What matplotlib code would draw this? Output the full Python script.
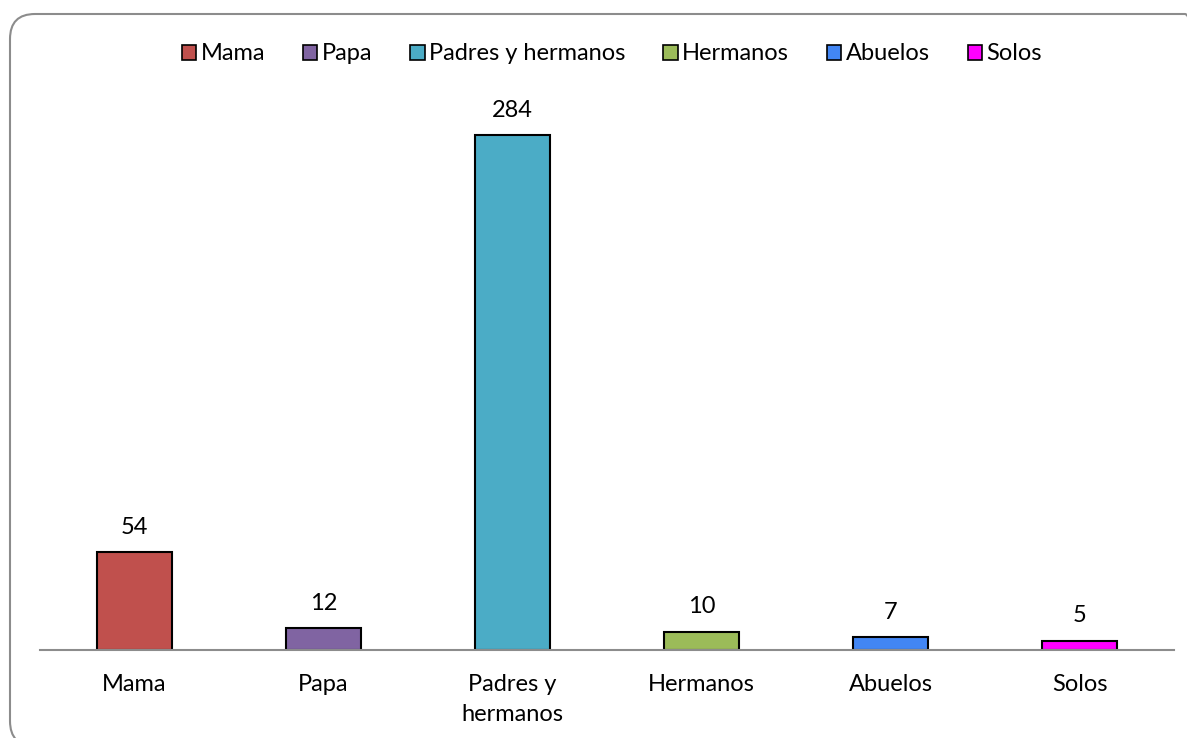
import matplotlib.pyplot as plt
from matplotlib.patches import FancyBboxPatch, Patch
from matplotlib.transforms import IdentityTransform

categories = ['Mama', 'Papa', 'Padres y hermanos', 'Hermanos', 'Abuelos', 'Solos']
tick_labels = ['Mama', 'Papa', 'Padres y\nhermanos', 'Hermanos', 'Abuelos', 'Solos']
values = [54, 12, 284, 10, 7, 5]
colors = ['#C0504D', '#8064A2', '#4BACC6', '#9BBB59', '#4286F4', '#FF00FF']

plt.rcParams['font.family'] = ['Lato', 'DejaVu Sans']

W, H = 1187, 738
fig = plt.figure(figsize=(W / 100, H / 100), dpi=100)

# axes placed in pixels: x 40..1174, baseline at y=650
left, right, base, top = 40, 1174, 650, 100
ax = fig.add_axes([left / W, 1 - base / H, (right - left) / W, (base - top) / H])

x = range(len(values))
ax.bar(x, values, width=0.4, color=colors, edgecolor='black', linewidth=1.5, zorder=3)
for i, v in enumerate(values):
    ax.text(i, v + 8, str(v), ha='center', va='bottom', fontsize=17, color='#000000')

ax.set_xlim(-0.5, len(values) - 0.5)
ax.set_ylim(0, (base - top) / 1.813)
ax.set_xticks(list(x))
ax.set_xticklabels(tick_labels, fontsize=17, linespacing=1.55)
ax.tick_params(axis='x', length=0, pad=17)
ax.set_yticks([])
for s in ['top', 'right', 'left']:
    ax.spines[s].set_visible(False)
ax.spines['bottom'].set_color('#8c8c8c')
ax.spines['bottom'].set_linewidth(1.5)
ax.spines['bottom'].set_zorder(4)
ax.patch.set_alpha(0)

handles = [Patch(facecolor=c, edgecolor='black', linewidth=1.2) for c in colors]
fig.legend(handles, categories, loc='center', bbox_to_anchor=(612 / W, 1 - 54 / H),
           ncol=6, frameon=False, fontsize=17, handlelength=0.6, handleheight=0.6,
           handletextpad=0.2, columnspacing=1.6)

# rounded chart border, right and bottom run off the image
border = FancyBboxPatch((10, -8), 1200, H - 14 + 8, boxstyle='round,pad=0,rounding_size=25',
                        transform=IdentityTransform(), facecolor='none',
                        edgecolor='#8c8c8c', linewidth=1.5)
fig.patches.append(border)

fig.savefig('out.png', dpi=100)
